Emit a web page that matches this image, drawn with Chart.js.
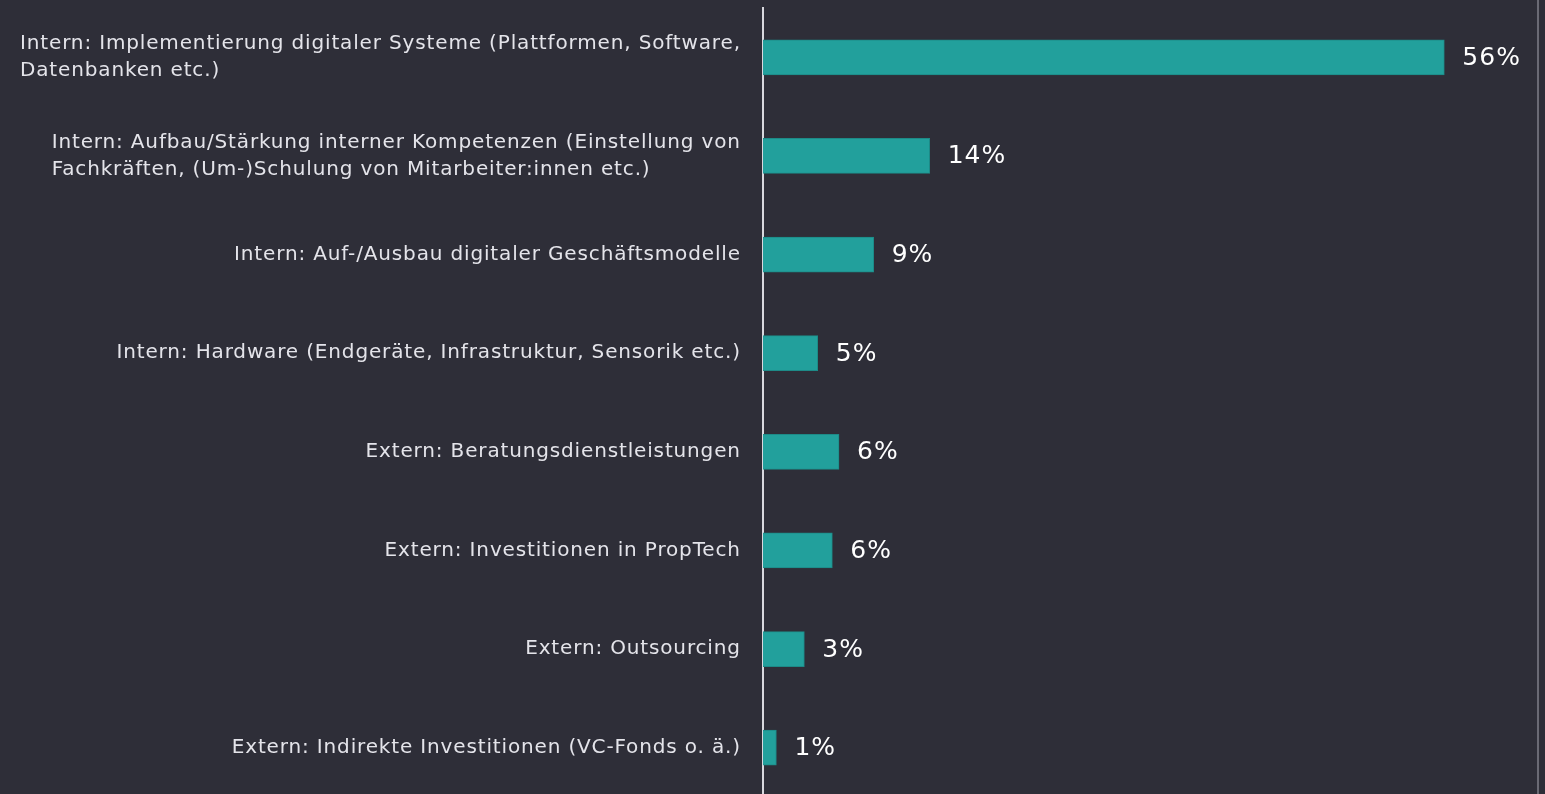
<!DOCTYPE html>
<html>
<head>
<meta charset="utf-8">
<script src="https://cdn.jsdelivr.net/npm/chart.js@4"></script>
<style>
  html, body { margin: 0; padding: 0; background: #2e2e38; overflow: hidden; }
  #wrap { width: 1545px; height: 797px; }
</style>
</head>
<body>
<div id="wrap"><canvas id="chart"></canvas></div>
<script>
const categories = [
  ["Intern: Implementierung digitaler Systeme (Plattformen, Software,", "Datenbanken etc.)"],
  ["Intern: Aufbau/Stärkung interner Kompetenzen (Einstellung von", "Fachkräften, (Um-)Schulung von Mitarbeiter:innen etc.)"],
  "Intern: Auf-/Ausbau digitaler Geschäftsmodelle",
  "Intern: Hardware (Endgeräte, Infrastruktur, Sensorik etc.)",
  "Extern: Beratungsdienstleistungen",
  "Extern: Investitionen in PropTech",
  "Extern: Outsourcing",
  "Extern: Indirekte Investitionen (VC-Fonds o. ä.)",
];
// bar lengths, printed labels as shown
const shares = [56, 13.7, 9.1, 4.5, 6.25, 5.7, 3.4, 1.1];
const shownPct = [56, 14, 9, 5, 6, 6, 3, 1];

const TEAL = "#22a09c";
const FONT = "'DejaVu Sans', sans-serif";

const labelPlugin = {
  id: "sideLabels",
  afterDraw(chart) {
    const { ctx, scales } = chart;
    const y = scales.y, x = scales.x;
    ctx.save();
    // category labels: block right-aligned, lines left-aligned
    ctx.font = "20px " + FONT;
    ctx.letterSpacing = "0.85px";
    ctx.fillStyle = "#e4e4ea";
    ctx.textBaseline = "middle";
    ctx.textAlign = "left";
    categories.forEach((c, i) => {
      const lines = Array.isArray(c) ? c : [c];
      const w = Math.max(...lines.map((l) => ctx.measureText(l).width));
      const cy = y.getPixelForValue(i);
      const lh = 27;
      lines.forEach((l, j) => {
        ctx.fillText(l, 740 - w + 0.85, cy + (j - (lines.length - 1) / 2) * lh);
      });
    });
    // value labels
    ctx.font = "25px " + FONT;
    ctx.letterSpacing = "1px";
    ctx.fillStyle = "#ffffff";
    shares.forEach((v, i) => {
      ctx.fillText(shownPct[i] + "%", x.getPixelForValue(v) + 18, y.getPixelForValue(i) + 1);
    });
    // right frame line
    ctx.strokeStyle = "#6a6a74";
    ctx.lineWidth = 2;
    ctx.beginPath();
    ctx.moveTo(chart.chartArea.right, 0);
    ctx.lineTo(chart.chartArea.right, chart.height);
    ctx.stroke();
    ctx.restore();
  },
};

new Chart(document.getElementById("chart"), {
  type: "bar",
  data: {
    labels: categories,
    datasets: [
      {
        data: shares,
        backgroundColor: TEAL,
        borderColor: "#1d8a87",
        borderWidth: 1,
        barThickness: 35,
      },
    ],
  },
  options: {
    indexAxis: "y",
    responsive: true,
    maintainAspectRatio: false,
    animation: false,
    layout: { padding: { top: 8, right: 7, bottom: 0, left: 0 } },
    plugins: {
      legend: { display: false },
      tooltip: { enabled: false },
    },
    scales: {
      x: {
        display: false,
        min: 0,
        max: 63.7,
      },
      y: {
        afterFit: (s) => { s.width = 763; },
        ticks: { display: false },
        grid: { display: false, drawTicks: false },
        border: { display: true, color: "#d8d8de", width: 2 },
      },
    },
  },
  plugins: [labelPlugin],
});
</script>
</body>
</html>
